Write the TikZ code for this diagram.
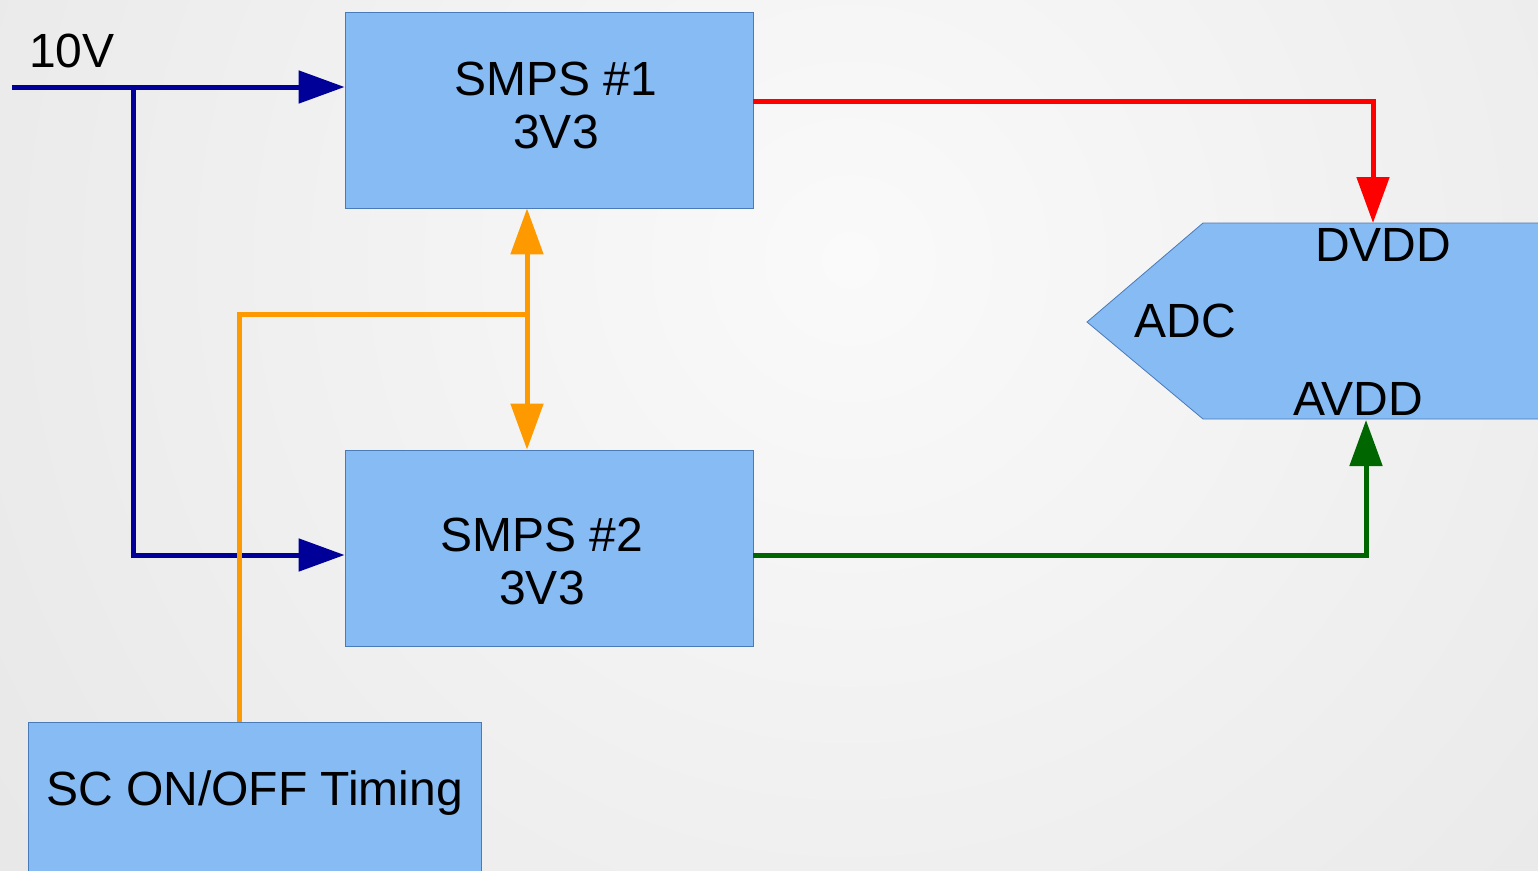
\documentclass[tikz,border=0pt]{standalone}
\usepackage{fontspec}
\setmainfont{Liberation Sans}
\usetikzlibrary{arrows.meta,calc}
\definecolor{boxfill}{HTML}{87BBF4}
\definecolor{boxline}{HTML}{4A7AB8}
\definecolor{vblue}{HTML}{000099}
\definecolor{vred}{HTML}{FF0000}
\definecolor{vgreen}{HTML}{006600}
\definecolor{vorange}{HTML}{FF9900}
\definecolor{bgin}{HTML}{FAFAFA}
\definecolor{bgout}{HTML}{E4E4E4}
\tikzset{
  box/.style={draw=boxline, line width=0.8pt, fill=boxfill, inner sep=0pt},
  lbl/.style={inner sep=0pt, font=\fontsize{48}{53}\selectfont, align=center},
  wire/.style={line width=5pt},
  tip/.style={-{Triangle[length=46pt,width=32pt]}},
  dtip/.style={{Triangle[length=46pt,width=32pt]}-{Triangle[length=46pt,width=32pt]}},
}
\begin{document}
\begin{tikzpicture}[x=1pt,y=-1pt]
\useasboundingbox (0,0) rectangle (1538,870);
\begin{scope}
\clip (0,0) rectangle (1538,870);
\shade[inner color=bgin, outer color=bgout] (850,260) circle (1250);
% boxes
\node[box, minimum width=408pt, minimum height=196pt] (s1) at (549,110) {};
\node[box, minimum width=408pt, minimum height=196pt] (s2) at (549,548) {};
\node[box, minimum width=453pt, minimum height=200pt] (sc) at (254.5,822) {};
% ADC shape
\draw[boxline, line width=0.8pt, fill=boxfill] (1087,322) -- (1203,223) -- (1545,223) -- (1545,419) -- (1203,419) -- cycle;
\coordinate (dvdd) at (1373,223);
\coordinate (avdd) at (1366,420);
% texts
\node[lbl] (t1) at (556,105) {SMPS \#1\\3V3};
\node[lbl] (t2) at (542,561) {SMPS \#2\\3V3};
\node[lbl] (tsc) at (254.5,793) {SC ON/OFF Timing};
\node[lbl] (t10) at (72,51) {10V};
\node[lbl] (tadc) at (1185,321) {ADC};
\node[lbl] (tdv) at (1383,245) {DVDD};
\node[lbl] (tav) at (1358,399) {AVDD};
% blue wires
\coordinate (in) at (12,87);
\coordinate (br) at (133,87);
\draw[wire, vblue, tip] (in) -- (in -| s1.west);
\draw[wire, vblue, tip] (br) |- ([yshift=-7pt]s2.west);
% red
\draw[wire, vred, tip] ([yshift=9pt]s1.east) -| (dvdd);
% green
\draw[wire, vgreen, tip] ([yshift=-7pt]s2.east) -| (avdd);
% orange
\coordinate (oj) at (527,314);
\coordinate (ot) at (239,314);
\draw[wire, vorange, dtip] (oj |- s1.south) -- (oj |- s2.north);
\draw[wire, vorange] (oj) -- (ot) -- (ot |- sc.north);
\end{scope}
\end{tikzpicture}
\end{document}
